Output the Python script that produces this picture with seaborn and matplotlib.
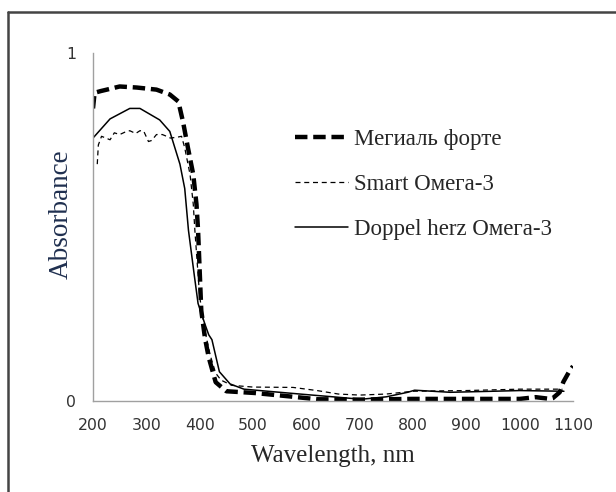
import matplotlib
matplotlib.use("Agg")
import matplotlib.pyplot as plt
import pandas as pd
import seaborn as sns
from matplotlib.lines import Line2D

# spectra
mega_wl = [200, 203, 215, 226, 250, 282, 319, 344, 360, 369, 378, 388, 394, 397,
           403, 410, 417, 430, 450, 503, 570, 620, 700, 800, 900, 1000, 1030, 1057,
           1062, 1075, 1082, 1093, 1100]
mega_abs = [0.84, 0.885, 0.89, 0.894, 0.903, 0.90, 0.894, 0.88, 0.86, 0.80, 0.727, 0.65, 0.565, 0.49,
            0.26, 0.18, 0.125, 0.054, 0.028, 0.023, 0.013, 0.005, 0.004, 0.006, 0.006, 0.006, 0.011, 0.006,
            0.008, 0.025, 0.055, 0.085, 0.10]

smart_wl = [208, 210, 216, 232, 240, 250, 260, 269, 280, 288, 295, 304, 310, 319, 330, 338, 345,
            357, 366, 372, 382, 388, 391, 400, 410, 420, 430, 440, 460, 500, 575, 620, 660,
            700, 750, 800, 900, 1000, 1080]
smart_abs = [0.68, 0.735, 0.76, 0.75, 0.77, 0.765, 0.772, 0.776, 0.768, 0.776, 0.775, 0.745, 0.748,
             0.765, 0.765, 0.76, 0.755, 0.757, 0.76, 0.727, 0.65, 0.565, 0.49, 0.30, 0.20, 0.13,
             0.08, 0.06, 0.045, 0.04, 0.039, 0.03, 0.02, 0.017, 0.02, 0.028, 0.03, 0.034, 0.034]

doppel_wl = [200, 232, 269, 288, 325, 344, 363, 372, 379, 390, 397, 410, 417, 423, 437, 457, 483,
             550, 603, 650, 703, 750, 790, 803, 870, 950, 1000, 1083]
doppel_abs = [0.755, 0.81, 0.84, 0.84, 0.807, 0.774, 0.68, 0.61, 0.49, 0.36, 0.28, 0.22, 0.19, 0.176,
              0.084, 0.049, 0.034, 0.025, 0.018, 0.012, 0.005, 0.012, 0.025, 0.031, 0.025, 0.028,
              0.03, 0.028]

labels = ["Мегиаль форте", "Smart Омега-3", "Doppel herz Омега-3"]

sns.set_style("white")
plt.rcParams["font.family"] = ["Liberation Serif", "DejaVu Serif"]

fig = plt.figure(figsize=(6.16, 4.92), dpi=100)
ax = fig.add_axes([93 / 616, 1 - 401 / 492, 480 / 616, 348.3 / 492])

series = [
    (mega_wl, mega_abs, dict(lw=3.2, dashes=(2.8, 1.3))),
    (smart_wl, smart_abs, dict(lw=0.9, dashes=(4, 3))),
    (doppel_wl, doppel_abs, dict(lw=1.1, dashes=())),
]
for (wl, ab, st), lab in zip(series, labels):
    df = pd.DataFrame({"wl": wl, "abs": ab})
    sns.lineplot(data=df, x="wl", y="abs", ax=ax, color="black", lw=st["lw"],
                 label=lab, legend=False)
    line = ax.lines[-1]
    if st["dashes"]:
        line.set_dashes(st["dashes"])

ax.set_xlim(200, 1100)
ax.set_ylim(0, 1)
ax.set_xticks(range(200, 1101, 100))
ax.set_yticks([0, 1])
for s in ["top", "right"]:
    ax.spines[s].set_visible(False)
for s in ["left", "bottom"]:
    ax.spines[s].set_color("#a0a0a0")
    ax.spines[s].set_linewidth(1)
ax.tick_params(axis="both", direction="out", length=5, width=1, color="#a0a0a0",
               labelsize=11.3, labelcolor="#333333")
for t in ax.get_xticklabels() + ax.get_yticklabels():
    t.set_family("DejaVu Sans")
ax.tick_params(axis="x", pad=7)
ax.tick_params(axis="y", pad=7)
ax.set_xlabel("Wavelength, nm", fontsize=18)
ax.set_ylabel("Absorbance", fontsize=19.5, color="#1f2f4f")
ax.xaxis.set_label_coords(0.5, -0.125)
ax.yaxis.set_label_coords(-0.04, 0.537)

ax.legend(loc="upper left", bbox_to_anchor=(0.378, 0.84), frameon=False,
          fontsize=16.5, handlelength=2.3, labelspacing=1.04, handletextpad=0.25)

# outer frame of the original figure
fig.add_artist(Line2D([8 / 616, 8 / 616], [0, 1 - 12 / 492], color="#444444", lw=1.8,
                      transform=fig.transFigure))
fig.add_artist(Line2D([8 / 616, 1], [1 - 12 / 492, 1 - 12 / 492], color="#444444", lw=1.8,
                      transform=fig.transFigure))

fig.savefig("out.png", dpi=100)
